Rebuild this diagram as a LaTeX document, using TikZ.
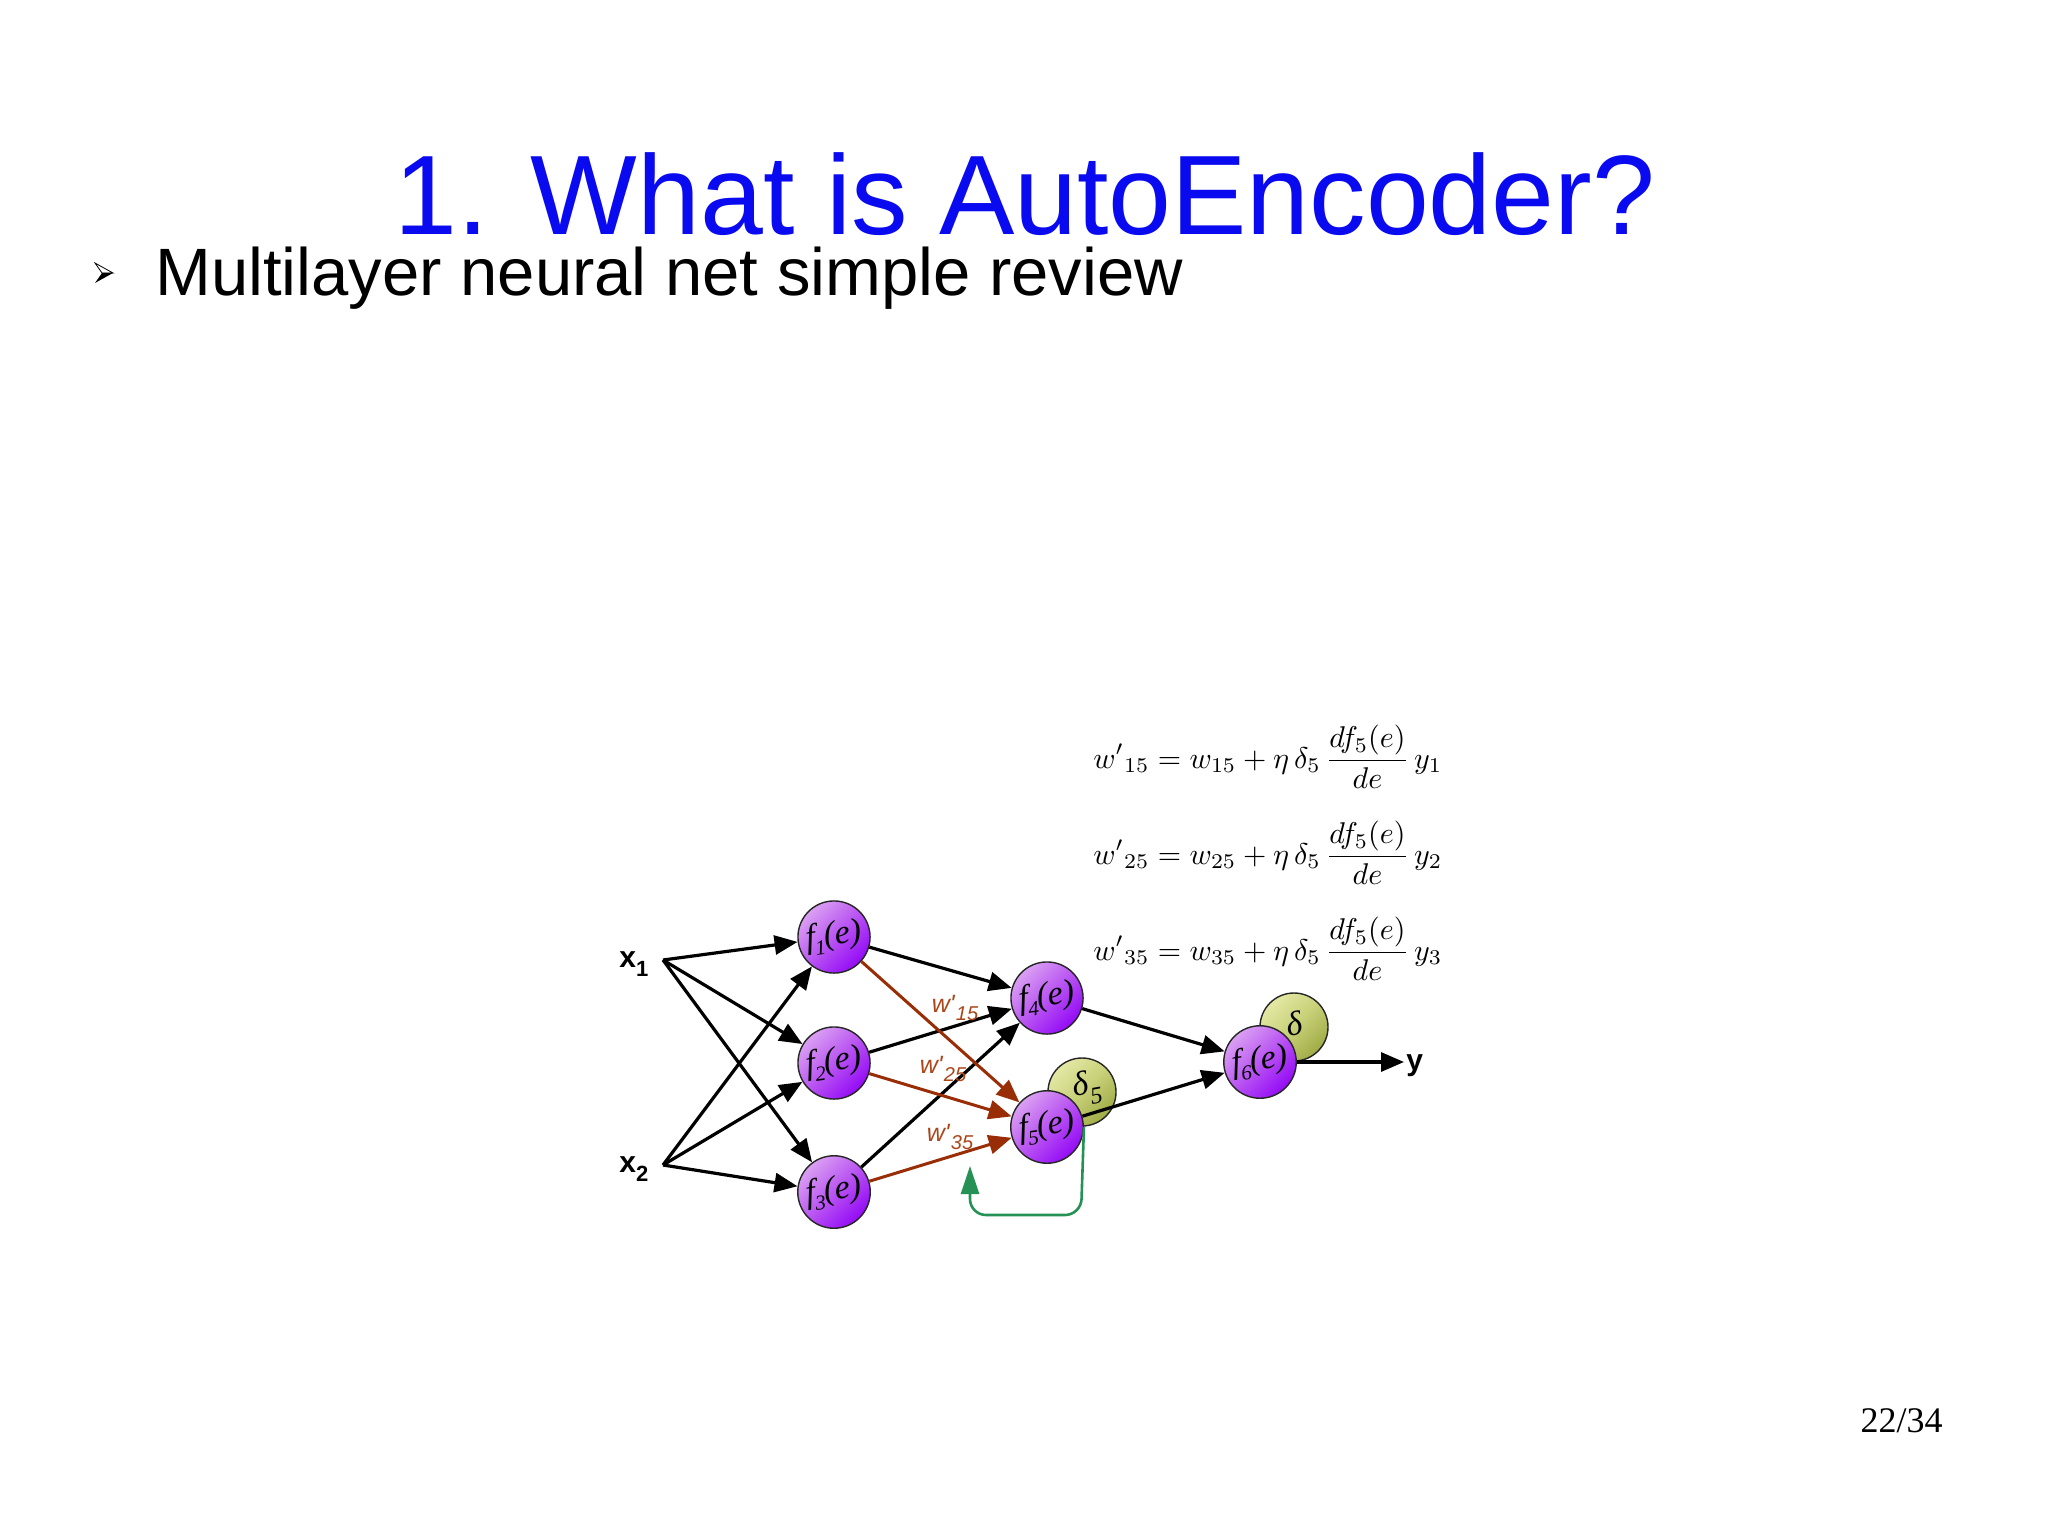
\documentclass[tikz,border=0pt]{standalone}
\usepackage{fontspec}
\setmainfont{Liberation Serif}
\newfontfamily\sansf{Liberation Sans}
\usetikzlibrary{arrows.meta}
\definecolor{titleblue}{RGB}{10,10,240}
\definecolor{plight}{RGB}{218,160,242}
\definecolor{pmid}{RGB}{185,85,242}
\definecolor{pdark}{RGB}{148,10,246}
\definecolor{glight}{RGB}{228,232,165}
\definecolor{gmid}{RGB}{200,208,120}
\definecolor{gdark}{RGB}{160,172,70}
\definecolor{brownedge}{RGB}{153,45,5}
\definecolor{brownlab}{RGB}{170,70,25}
\definecolor{fbgreen}{RGB}{38,145,85}
\newcommand\flab[1]{\rotatebox{8}{\fontsize{17}{17}\selectfont\itshape f\kern-0.04em\raisebox{-0.25em}{\fontsize{10.5}{10.5}\selectfont #1}(e)}}
\newcommand\wlab[1]{{\sansf\itshape\fontsize{12.5}{13}\selectfont w'\kern0.05em\raisebox{-0.3em}{\fontsize{10}{10}\selectfont #1}}}
\tikzset{
  fnode/.style={circle, minimum size=33pt, inner sep=0pt, draw=black!85, line width=0.7pt,
    top color=plight, bottom color=pdark, middle color=pmid, shading angle=45},
  dnode/.style={circle, minimum size=34pt, inner sep=0pt, draw=black!85, line width=0.7pt,
    top color=glight, bottom color=gdark, middle color=gmid, shading angle=45},
  blk/.style={draw=black, line width=1.6pt, -{Triangle[length=11.5pt,width=9.5pt]}},
  brn/.style={draw=brownedge, line width=1.5pt, -{Triangle[length=11.5pt,width=9.5pt]}},
  grn/.style={draw=fbgreen, line width=1.3pt, rounded corners=8pt, -{Triangle[length=14pt,width=9pt]}},
  wl/.style={text=brownlab, inner sep=0pt},
  eq/.style={anchor=base west, inner sep=0pt},
}
\begin{document}
\begin{tikzpicture}[x=0.5pt,y=-0.5pt]
\useasboundingbox (0,0) rectangle (2048,1535);
\fill[white] (0,0) rectangle (2048,1535);

% title and bullet
\node[anchor=base, inner sep=0pt, text=titleblue, font=\sansf\fontsize{56.5}{60}\selectfont] (title) at (1025,235) {1. What is AutoEncoder?};
\node[anchor=base west, inner sep=0pt, font=\sansf\fontsize{33.5}{36}\selectfont] (sub) at (155,296) {Multilayer neural net simple review};
\draw[black, line width=0.4pt, fill=white] (95,263) -- (113,273) -- (102,273) -- cycle;
\fill[black] (102,273) -- (113,273) -- (95,283) -- cycle;

% page number
\node[anchor=base east, inner sep=0pt, font=\fontsize{18}{20}\selectfont] (page) at (1943,1432) {22/34};

% delta circles (behind)
\node[dnode] (d5) at (1082,1092) {};
\node[dnode] (d6) at (1294,1027) {};
\node (d5t) at (1087,1088) {\rotatebox{10}{\fontsize{17}{17}\selectfont\itshape δ\raisebox{-0.3em}{\fontsize{12}{12}\selectfont 5}}};
\node (d6t) at (1294,1024) {\rotatebox{10}{\fontsize{17}{17}\selectfont\itshape δ}};

% neurons
\node[fnode] (f1) at (834,937) {\flab{1}};
\node[fnode] (f2) at (834,1063) {\flab{2}};
\node[fnode] (f3) at (834,1192) {\flab{3}};
\node[fnode] (f4) at (1047,998) {\flab{4}};
\node[fnode] (f5) at (1047,1127) {\flab{5}};
\node[fnode] (f6) at (1260,1062) {\flab{6}};

% inputs / output
\coordinate (x1) at (663,960);
\coordinate (x2) at (663,1165);
\coordinate (yo) at (1404,1062);
\node[anchor=base west, inner sep=0pt, font=\sansf\bfseries\fontsize{15}{15}\selectfont] (x1l) at (619,967) {x\raisebox{-0.3em}{\fontsize{11}{11}\selectfont 1}};
\node[anchor=base west, inner sep=0pt, font=\sansf\bfseries\fontsize{15}{15}\selectfont] (x2l) at (619,1172) {x\raisebox{-0.3em}{\fontsize{11}{11}\selectfont 2}};
\node[anchor=base west, inner sep=0pt, font=\sansf\bfseries\fontsize{15}{15}\selectfont] (yl) at (1406,1070) {y};

% input edges
\draw[blk] (x1) -- (f1);
\draw[blk] (x1) -- (f2);
\draw[blk] (x1) -- (f3);
\draw[blk] (x2) -- (f1);
\draw[blk] (x2) -- (f2);
\draw[blk] (x2) -- (f3);

% hidden edges
\draw[blk] (f1) -- (f4);
\draw[blk] (f2) -- (f4);
\draw[blk] (f3) -- (f4);
\draw[brn] (f1) -- (f5);
\draw[brn] (f2) -- (f5);
\draw[brn] (f3) -- (f5);
\draw[blk] (f4) -- (f6);
\draw[blk] (f5) -- (f6);
\draw[blk] (f6) -- (yo);

% weight labels
\node[wl] (w15) at (955,1008) {\wlab{15}};
\node[wl] (w25) at (943,1069) {\wlab{25}};
\node[wl] (w35) at (950,1137) {\wlab{35}};

% feedback arrow
\coordinate (gc1) at (1081,1215);
\coordinate (gc2) at (970,1215);
\coordinate (gtip) at (970,1166);
\draw[grn] (f5.east) -- (gc1) -- (gc2) -- (gtip);

% equations
\node[eq] (eq1) at (1093,768) {\scalebox{1.5}{$\displaystyle w'{}_{15} = w_{15} + \eta\,\delta_5\,\frac{df_5(e)}{de}\,y_1$}};
\node[eq] (eq2) at (1093,864) {\scalebox{1.5}{$\displaystyle w'{}_{25} = w_{25} + \eta\,\delta_5\,\frac{df_5(e)}{de}\,y_2$}};
\node[eq] (eq3) at (1093,960) {\scalebox{1.5}{$\displaystyle w'{}_{35} = w_{35} + \eta\,\delta_5\,\frac{df_5(e)}{de}\,y_3$}};
\end{tikzpicture}
\end{document}
